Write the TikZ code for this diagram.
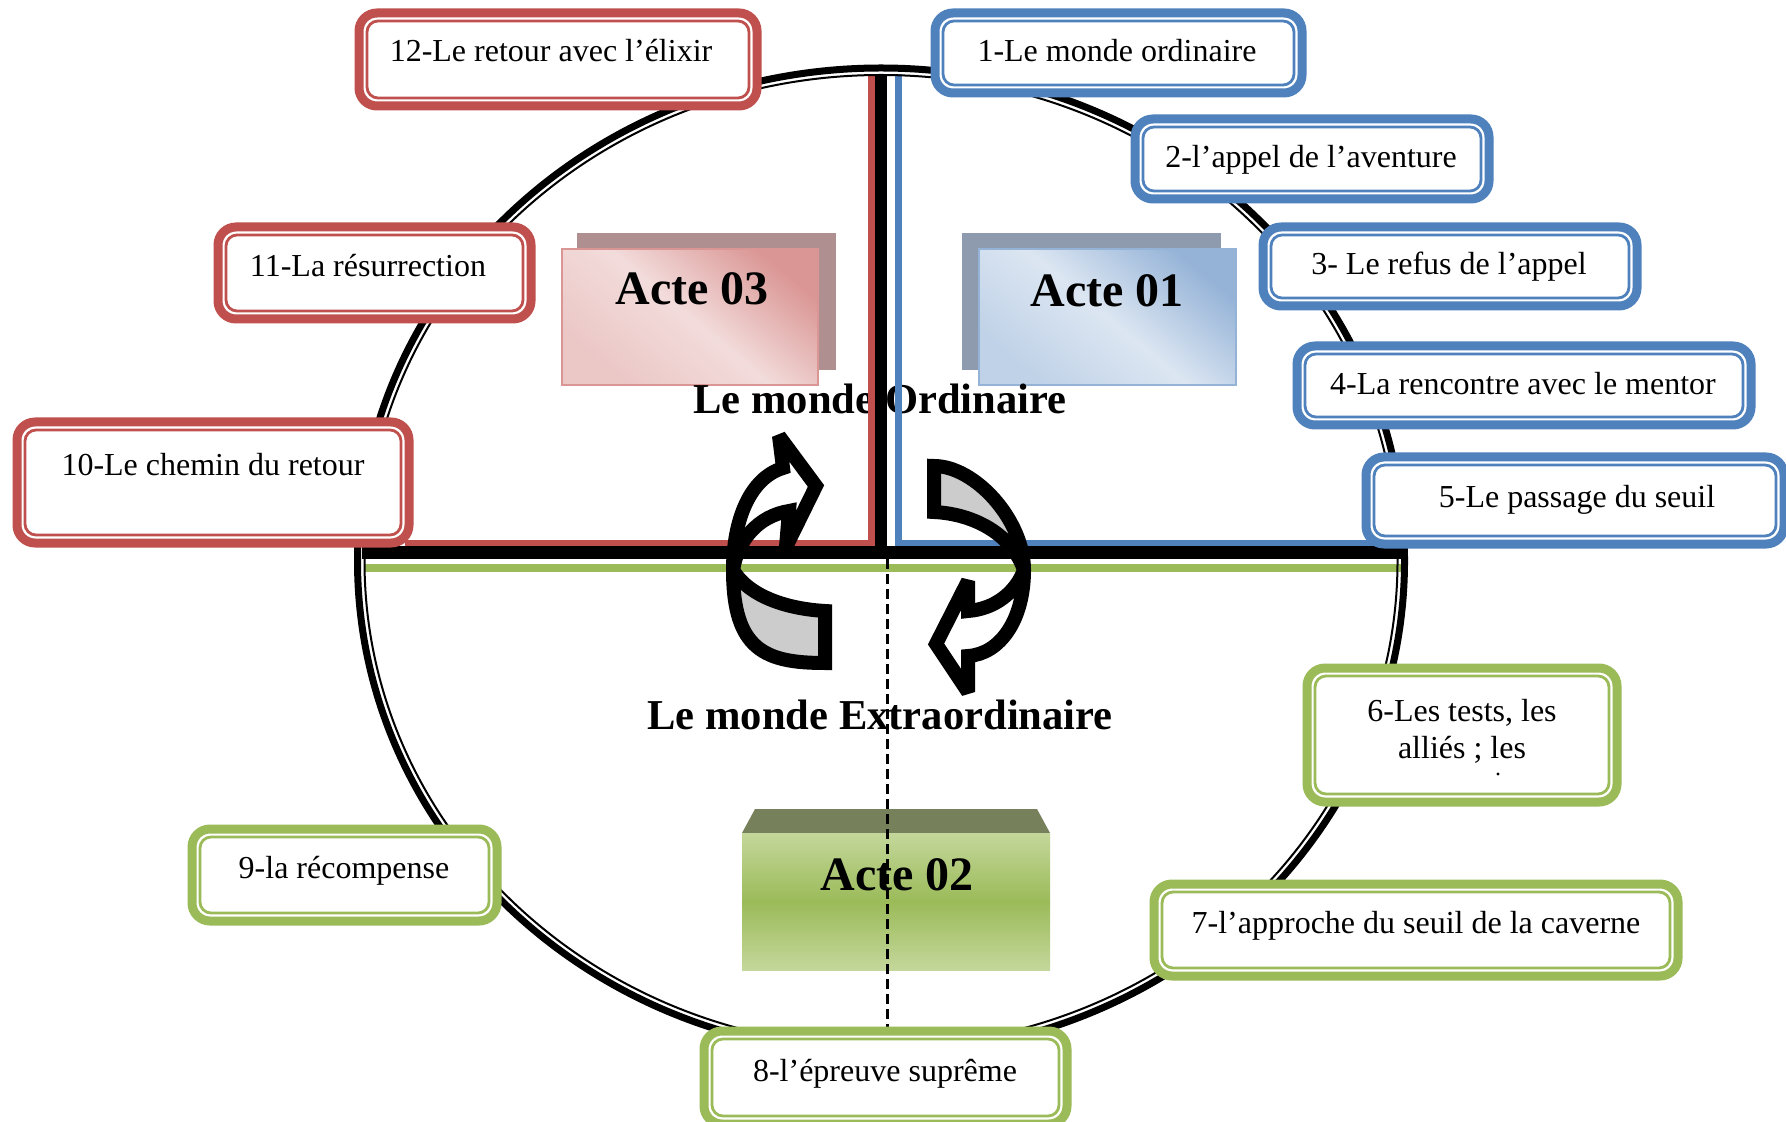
\documentclass[tikz,border=0pt]{standalone}
\usepackage{fontspec}
\setmainfont{Liberation Serif}
\definecolor{redA}{HTML}{C0504D}
\definecolor{blueA}{HTML}{4F81BD}
\definecolor{greenA}{HTML}{9BBB59}
\definecolor{pinkDark}{HTML}{DA9694}
\definecolor{pinkLight}{HTML}{F2DCDB}
\definecolor{pinkShadow}{HTML}{AF8F8F}
\definecolor{skyDark}{HTML}{95B3D7}
\definecolor{skyLight}{HTML}{DCE6F2}
\definecolor{skyShadow}{HTML}{8E9BAF}
\definecolor{oliveTop}{HTML}{76815C}
\definecolor{leafLight}{HTML}{C4D79B}
\definecolor{leafMid}{HTML}{9BBB59}
\definecolor{arrowGrey}{HTML}{CCCCCC}
\begin{document}
\begin{tikzpicture}[x=0.5pt,y=-0.5pt,
  stagebox/.style={draw=#1, fill=white, line width=4.5pt, rounded corners=9pt,
    inner sep=0pt, outer sep=0pt},
  stagerim/.style={draw=#1, line width=1.4pt, rounded corners=5.5pt},
  stagetext/.style={font=\fontsize{16pt}{19pt}\selectfont, anchor=base, inner sep=0pt},
  actshadow/.style={fill=#1, draw=none, inner sep=0pt, outer sep=0pt},
  actpanel/.style={line width=0.75pt, inner sep=0pt, outer sep=0pt},
  acttext/.style={font=\fontsize{24pt}{28pt}\selectfont\bfseries, anchor=base, inner sep=0pt},
  worldtext/.style={font=\fontsize{21.3pt}{25pt}\selectfont\bfseries, anchor=base, inner sep=0pt},
  cyclearrow/.style={draw=black, line width=7pt, line join=miter, miter limit=3}
]
\useasboundingbox (0,0) rectangle (1786,1122);
\fill[white] (0,0) rectangle (1786,1122);

% ---- act panels ----
\node[actshadow=pinkShadow, minimum width=129.5pt, minimum height=68.5pt] (s3) at (706.5,301.5) {};
\node[actpanel, draw=pinkDark, top color=pinkDark, bottom color=pinkLight!70!pinkDark,
      middle color=pinkLight, shading angle=-40,
      minimum width=128pt, minimum height=68pt] (a3) at (690,317) {};
\node[actshadow=skyShadow, minimum width=129.5pt, minimum height=68.5pt] (s1) at (1091.5,301.5) {};
\node[actpanel, draw=skyDark, top color=skyDark, bottom color=skyLight!60!skyDark,
      middle color=skyLight, shading angle=-40,
      minimum width=128.5pt, minimum height=68pt] (a1) at (1107.5,317) {};
\fill[oliveTop] (742,833) -- (755,809) -- (1037,809) -- (1050,833) -- cycle;
\node[actpanel, top color=leafLight, bottom color=leafLight, middle color=leafMid,
      minimum width=154pt, minimum height=68.5pt] (a2) at (896,901.5) {};

\node[acttext] (l3) at (692,305) {Acte 03};
\node[acttext] (l1) at (1107,307) {Acte 01};
\node[acttext] (l2) at (897,890) {Acte 02};
\node[worldtext] (wo) at (880,414) {Le monde Ordinaire};
\node[worldtext] (we) at (880,729) {Le monde Extraordinaire};

% ---- quadrant lines ----
\coordinate (rTop) at (871.7,74);
\coordinate (rCorner) at (871.7,543.5);
\coordinate (rEnd) at (405,543.5);
\coordinate (bTop) at (898.5,74);
\coordinate (bCorner) at (898.5,543.5);
\coordinate (bEnd) at (1400,543.5);
\draw[redA, line width=3.25pt] (rEnd) -- (rCorner) -- (rTop);
\draw[blueA, line width=3.25pt] (bTop) -- (bCorner) -- (bEnd);
\coordinate (kTop) at (881,74);
\coordinate (kMid) at (881,552.5);
\coordinate (kLeft) at (362,552.5);
\coordinate (kRight) at (1405,552.5);
\draw[line width=6pt] (kTop) -- (kMid);
\draw[line width=6.5pt] (kLeft) -- (kRight);
\coordinate (gLeft) at (364,568);
\coordinate (gRight) at (1403,568);
\draw[greenA, line width=4pt] (gLeft) -- (gRight);
\coordinate (dTop) at (887,559);
\coordinate (dBottom) at (887,1030);
\draw[line width=1.5pt, dash pattern=on 5pt off 2.5pt] (dTop) -- (dBottom);

% ---- outer ring ----
\draw[line width=3.5pt] (881,561) ellipse [x radius=523.5, y radius=493];
\draw[line width=1pt] (881,561) ellipse [x radius=516.5, y radius=486];

% ---- cycle arrows ----
\draw[cyclearrow, fill=arrowGrey] (733,570) .. controls (733,650) and (765,663) .. (825,663)
  -- (825,611) .. controls (790,609) and (750,598) .. (733,570) -- cycle;
\draw[cyclearrow] (733,570) .. controls (733,520) and (750,478) .. (783,468)
  -- (779,436) -- (816,486) -- (786,547) -- (789,511)
  .. controls (758,516) and (738,540) .. (733,570) -- cycle;
\draw[cyclearrow, fill=arrowGrey] (934,466) .. controls (975,466) and (1024,520) .. (1024,570)
  .. controls (1012,535) and (975,514) .. (934,512) -- cycle;
\draw[cyclearrow] (1024,570) .. controls (1024,620) and (1000,654) .. (968,656)
  -- (968,692) -- (936,644) -- (968,581) -- (968,611)
  .. controls (995,609) and (1016,592) .. (1024,570) -- cycle;

% ---- stage boxes ----
\node[stagebox=blueA, minimum width=183.5pt, minimum height=40pt] (b1) at (1118.5,53) {};
\node[stagebox=blueA, minimum width=177pt, minimum height=40pt] (b2) at (1312,159) {};
\node[stagebox=blueA, minimum width=187pt, minimum height=39.5pt] (b3) at (1450,266.5) {};
\node[stagebox=blueA, minimum width=227pt, minimum height=39.5pt] (b4) at (1524,385.5) {};
\node[stagebox=blueA, minimum width=209pt, minimum height=43.5pt] (b5) at (1575,500.5) {};
\node[stagebox=greenA, minimum width=155pt, minimum height=67pt] (b6) at (1462,735) {};
\node[stagebox=greenA, minimum width=262pt, minimum height=46pt] (b7) at (1416,930) {};
\node[stagebox=greenA, minimum width=181.5pt, minimum height=46.5pt] (b8) at (885.5,1077.5) {};
\node[stagebox=greenA, minimum width=152.5pt, minimum height=46pt] (b9) at (344.5,875) {};
\node[stagebox=redA, minimum width=196pt, minimum height=60.5pt] (b10) at (213,482.5) {};
\node[stagebox=redA, minimum width=156.5pt, minimum height=46pt] (b11) at (374.5,273) {};
\node[stagebox=redA, minimum width=199pt, minimum height=46.5pt] (b12) at (558,59.5) {};
\foreach \bn/\bc in {b1/blueA,b2/blueA,b3/blueA,b4/blueA,b5/blueA,
                     b6/greenA,b7/greenA,b8/greenA,b9/greenA,
                     b10/redA,b11/redA,b12/redA}
  \draw[stagerim=\bc] ([shift={(4pt,-4pt)}]\bn.north west)
    rectangle ([shift={(-4pt,4pt)}]\bn.south east);

\node[stagetext] (t1) at (1117,62) {1-Le monde ordinaire};
\node[stagetext] (t2) at (1311,168) {2-l’appel de l’aventure};
\node[stagetext] (t3) at (1449,275) {3- Le refus de l’appel};
\node[stagetext] (t4) at (1523,395) {4-La rencontre avec le mentor};
\node[stagetext] (t5) at (1577,507) {5-Le passage du seuil};
\node[stagetext] (t6a) at (1462,721) {6-Les tests, les};
\node[stagetext] (t6b) at (1462,758) {alliés ; les};
\fill (1498,774) circle [radius=1.6];
\node[stagetext] (t7) at (1416,933) {7-l’approche du seuil de la caverne};
\node[stagetext] (t8) at (885,1081) {8-l’épreuve suprême};
\node[stagetext] (t9) at (344,878) {9-la récompense};
\node[stagetext] (t10) at (213,475) {10-Le chemin du retour};
\node[stagetext] (t11) at (368,277) {11-La résurrection};
\node[stagetext] (t12) at (551,62) {12-Le retour avec l’élixir};
\end{tikzpicture}
\end{document}
